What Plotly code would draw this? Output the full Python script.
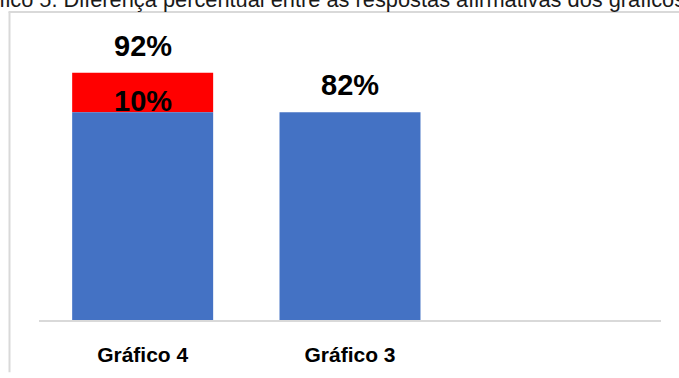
import plotly.graph_objects as go

# Data
categories = ["Gráfico 4", "Gráfico 3"]
base_values = [82, 82]          # % respostas afirmativas (parte comum)
extra_value = 10                # diferença percentual do Gráfico 4
totals = [92, 82]
title_text = "Gráfico 5. Diferença percentual entre as respostas afirmativas dos gráficos 3 e 4"

BLUE = "#4472C4"
RED = "#FF0000"
x_pos = list(range(len(categories)))

W, H = 679, 378
L, R, T, B = 39, 18, 41, 53
pw, ph = W - L - R, H - T - B


def px_to_paper_x(px):
    return (px - L) / pw


def px_to_paper_y(py):
    return (H - B - py) / ph


fig = go.Figure()

# red difference segment stacked on top of the common part
fig.add_trace(go.Bar(
    x=[x_pos[0]], y=[extra_value], base=[base_values[0]],
    width=0.68, marker=dict(color=RED, line=dict(width=0)),
    hoverinfo="skip", showlegend=False,
))

# common blue part
fig.add_trace(go.Bar(
    x=x_pos, y=base_values, width=0.68,
    marker=dict(color=BLUE, line=dict(width=0)),
    hoverinfo="skip", showlegend=False,
))

# difference label sitting on the lower edge of the red segment
fig.add_annotation(
    x=x_pos[0], y=base_values[0], xref="x", yref="y", text=f"<b>{extra_value}%</b>",
    showarrow=False, yanchor="bottom", yshift=-7,
    font=dict(family="Liberation Sans", size=29, color="black"),
)

# total labels above bars
for xi, tot in zip(x_pos, totals):
    fig.add_annotation(
        x=xi, y=tot, xref="x", yref="y", text=f"<b>{tot}%</b>",
        showarrow=False, yanchor="bottom", yshift=9,
        font=dict(family="Liberation Sans", size=29, color="black"),
    )

# caption at the top (runs past the page edges)
fig.add_annotation(
    x=px_to_paper_x(-39.5), y=px_to_paper_y(-1.5), xref="paper", yref="paper",
    text=title_text, showarrow=False, xanchor="left", yanchor="middle",
    font=dict(family="Liberation Sans", size=21.8, color="#1a1a1a"),
)

# light grey frame (left and top edges)
frame = dict(color="#D9D9D9", width=2)
fig.add_shape(type="line", xref="paper", yref="paper",
              x0=px_to_paper_x(9.5), x1=px_to_paper_x(9.5),
              y0=px_to_paper_y(11.5), y1=px_to_paper_y(377), line=frame)
fig.add_shape(type="line", xref="paper", yref="paper",
              x0=px_to_paper_x(8.5), x1=px_to_paper_x(700),
              y0=px_to_paper_y(11.5), y1=px_to_paper_y(11.5), line=frame)

# baseline of the category axis
fig.add_shape(type="line", xref="paper", yref="paper", x0=0, x1=1, y0=0, y1=0,
              line=dict(color="#D9D9D9", width=2))

fig.update_layout(
    width=W, height=H,
    margin=dict(l=L, r=R, t=T, b=B),
    paper_bgcolor="white", plot_bgcolor="white",
    barmode="overlay",
    xaxis=dict(
        range=[-0.5, 2.5], tickvals=x_pos, ticktext=categories,
        showgrid=False, zeroline=False, showline=False, ticks="",
        ticklabelstandoff=19,
        tickfont=dict(family="Liberation Sans", size=21,
                      color="black", weight="bold"),
    ),
    yaxis=dict(range=[29.25, 100], visible=False, showgrid=False),
    font=dict(family="Liberation Sans"),
)

fig.write_html("out.html")
